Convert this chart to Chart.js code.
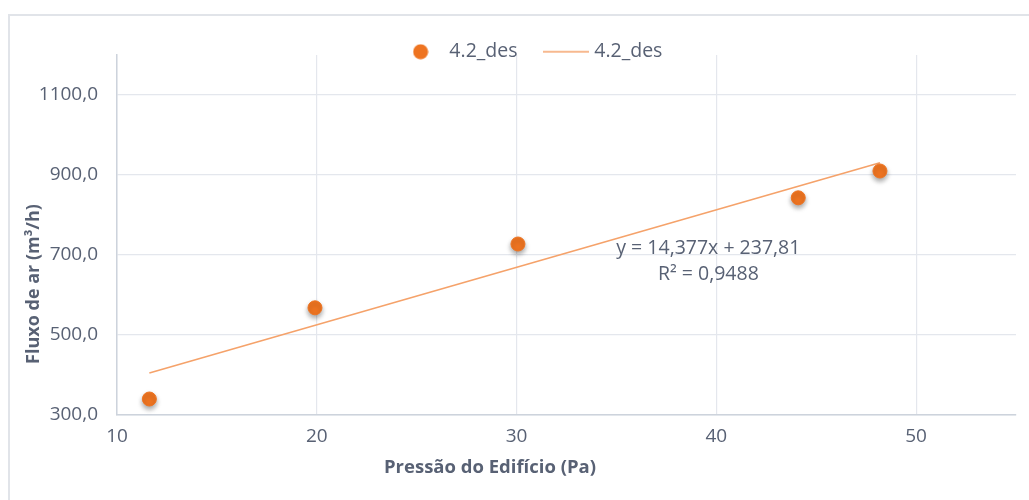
<!DOCTYPE html>
<html lang="pt">
<head>
<meta charset="utf-8">
<title>Fluxo de ar x Pressão do Edifício</title>
<script src="https://cdn.jsdelivr.net/npm/chart.js@4.4.1/dist/chart.umd.min.js"></script>
<style>
  html, body { margin: 0; padding: 0; background: #fff; overflow: hidden; }
  #wrap { position: relative; width: 1029px; height: 500px; }
  #frame {
    position: absolute; left: 8px; top: 14px; width: 1100px; height: 600px;
    border: 2px solid #e1e4e9; box-sizing: border-box;
  }
  canvas { position: absolute; left: 0; top: 0; }
</style>
</head>
<body>
<div id="wrap">
  <div id="frame"></div>
  <canvas id="chart" width="1029" height="500"></canvas>
</div>
<script>
// measured points (pressure in Pa, airflow in m3/h)
const pressure = [11.62, 19.91, 30.07, 44.1, 48.19];
const airflow = [340, 568, 727.5, 843, 910];
const seriesName = '4.2_des';

// linear trendline as reported on the chart
const slope = 14.377;
const intercept = 237.81;
const rSquared = '0,9488';

const yTicks = [300, 500, 700, 900, 1100];
const xTicks = [10, 20, 30, 40, 50];

const textColor = '#586174';
const orange = '#ee7421';
const trendColor = '#f5a26a';
const FONT = '"Open Sans", "Noto Sans", sans-serif';

const fmt = v => v.toLocaleString('pt-BR', { minimumFractionDigits: 1, maximumFractionDigits: 1, useGrouping: false });

const xMin = Math.min(...pressure);
const xMax = Math.max(...pressure);
const trendPoints = [xMin, xMax].map(x => ({ x, y: slope * x + intercept }));

// legend swatches: a dot and a short line
function swatch(kind) {
    const c = document.createElement('canvas');
    if (kind === 'dot') {
        c.width = 16; c.height = 16;
        const g = c.getContext('2d');
        g.fillStyle = orange;
        g.beginPath(); g.arc(8, 8, 7.5, 0, Math.PI * 2); g.fill();
    } else {
        c.width = 46; c.height = 4;
        const g = c.getContext('2d');
        g.strokeStyle = trendColor; g.lineWidth = 1.6;
        g.beginPath(); g.moveTo(0, 2); g.lineTo(46, 2); g.stroke();
    }
    return c;
}
const legendIcons = [swatch('dot'), swatch('line')];

const LEGEND_PAD = 29;

const extras = {
    id: 'extras',
    beforeLayout(chart) {
        // the legend keeps a wide gap between items but only takes a thin strip above the plot
        const lg = chart.legend;
        if (lg && !lg._thin) {
            const fit = lg.fit;
            lg.fit = function () { fit.call(this); if (this.isHorizontal()) this.height = 29; };
            lg._thin = true;
        }
    },
    afterLayout(chart) {
        // give the legend box back its full height so nothing is clipped
        const lg = chart.legend;
        lg.top = 42 - LEGEND_PAD;
        lg.height = 70;
        lg.bottom = lg.top + lg.height;
        lg.left += 24; lg.right += 24;
    },
    beforeDatasetDraw(chart, args) {
        if (args.index !== 1) return;
        const ctx = chart.ctx;
        ctx.save();
        ctx.shadowColor = 'rgba(0,0,0,0.35)';
        ctx.shadowBlur = 5;
        ctx.shadowOffsetY = 3;
    },
    afterDatasetDraw(chart, args) {
        if (args.index === 1) chart.ctx.restore();
    },
    afterDraw(chart) {
        const { ctx, scales } = chart;
        ctx.save();
        ctx.fillStyle = textColor;
        ctx.textAlign = 'center';
        ctx.textBaseline = 'middle';

        // trendline equation
        ctx.font = '19.5px ' + FONT;
        const ex = scales.x.getPixelForValue(39.6);
        const ey = scales.y.getPixelForValue(717);
        ctx.fillText('y = ' + slope.toLocaleString('pt-BR') + 'x + ' + intercept.toLocaleString('pt-BR'), ex, ey);
        ctx.fillText('R² = ' + rSquared, ex, ey + 26);

        // axis titles
        ctx.font = 'bold 18.5px ' + FONT;
        ctx.fillText('Pressão do Edifício (Pa)', 490, 468);
        ctx.font = 'bold 18px ' + FONT;
        ctx.translate(34, 284);
        ctx.rotate(-Math.PI / 2);
        ctx.fillText('Fluxo de ar (m³/h)', 0, 0);
        ctx.restore();
    }
};

new Chart(document.getElementById('chart'), {
    type: 'scatter',
    data: {
        datasets: [
            {
                type: 'line',
                label: seriesName,
                data: trendPoints,
                borderColor: trendColor,
                borderWidth: 1.6,
                pointRadius: 0,
                fill: false,
                order: 2
            },
            {
                label: seriesName,
                data: pressure.map((x, i) => ({ x, y: airflow[i] })),
                backgroundColor: orange,
                borderColor: orange,
                pointRadius: 7,
                pointHoverRadius: 7,
                order: 1
            }
        ]
    },
    options: {
        responsive: false,
        animation: false,
        events: [],
        layout: { padding: { top: 26, right: 13, left: 0, bottom: 0 } },
        plugins: {
            tooltip: { enabled: false },
            legend: {
                position: 'top',
                labels: {
                    color: textColor,
                    font: { family: FONT, size: 19.5 },
                    usePointStyle: true,
                    pointStyleWidth: 38,
                    boxHeight: 12,
                    padding: LEGEND_PAD,
                    generateLabels(chart) {
                        // scatter first, trendline second
                        const base = Chart.defaults.plugins.legend.labels.generateLabels(chart);
                        const order = [1, 0];
                        return order.map((di, k) => Object.assign({}, base[di], { pointStyle: legendIcons[k], text: seriesName }));
                    }
                }
            }
        },
        scales: {
            x: {
                type: 'linear',
                min: 10,
                max: 55,
                afterBuildTicks: s => { s.ticks = xTicks.map(v => ({ value: v })); },
                afterFit: s => { s.height = 85; },
                border: { color: '#cdd3dc', width: 1.5 },
                grid: { color: '#e4e7ed', lineWidth: 1.2, drawTicks: false },
                ticks: { color: textColor, font: { family: FONT, size: 19 }, padding: 10 }
            },
            y: {
                type: 'linear',
                min: 300,
                max: 1200,
                afterBuildTicks: s => { s.ticks = yTicks.map(v => ({ value: v })); },
                afterFit: s => { s.width = 117; },
                border: { color: '#cdd3dc', width: 1.5 },
                grid: { color: '#e4e7ed', lineWidth: 1.2, drawTicks: false },
                ticks: { color: textColor, font: { family: FONT, size: 19 }, padding: 19, callback: v => fmt(v) }
            }
        }
    },
    plugins: [extras]
});
</script>
</body>
</html>
